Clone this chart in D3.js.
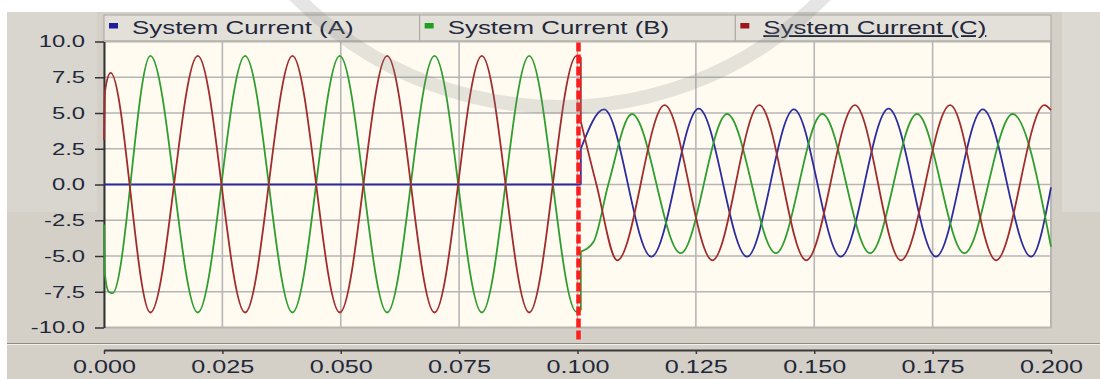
<!DOCTYPE html>
<html>
<head>
<meta charset="utf-8">
<script src="https://cdn.jsdelivr.net/npm/d3@7"></script>
<style>
  body { margin: 0; background: #fff; }
  svg { display: block; font-family: "Liberation Sans", Arial, sans-serif; }
</style>
</head>
<body>
<div id="chart"></div>
<script>
// tick values
const timeTicks = [0, 0.025, 0.05, 0.075, 0.1, 0.125, 0.15, 0.175, 0.2];
const currentTicks = [-10, -7.5, -5, -2.5, 0, 2.5, 5, 7.5, 10];
const seriesNames = ['System Current (A)', 'System Current (B)', 'System Current (C)'];
const faultTime = 0.1;

// waveform key points [time (s), current]
const preA = [[0, 0], [0.1007, 0]];
const postA = [[0.1007, 2.5], [0.1056, 5.25], [0.1156, -5.05], [0.1256, 5.3], [0.1358, -5.05],
  [0.1457, 5.25], [0.1556, -5.05], [0.1657, 5.3], [0.1757, -5.05], [0.1856, 5.25],
  [0.1958, -5.05], [0.2, -0.2]];

const preB = [[0, -2.8], [0.0002, -6.3], [0.001, -7.5], [0.0018, -7.6], [0.0098, 9.0],
  [0.0198, -8.95], [0.0298, 9.0], [0.0398, -8.95], [0.0498, 9.0], [0.0598, -8.95],
  [0.0698, 9.0], [0.0798, -8.95], [0.0898, 9.0], [0.0998, -8.9], [0.1007, -8.8]];
const postB = [[0.1007, -4.7], [0.1034, -4.0], [0.1065, 0], [0.1115, 4.93], [0.1218, -4.8],
  [0.1316, 4.93], [0.1419, -4.8], [0.1517, 4.93], [0.1618, -4.8], [0.1717, 4.93],
  [0.1817, -4.8], [0.1919, 4.93], [0.2, -4.35]];

const preC = [[0, 3.1], [0.0002, 6.5], [0.0014, 7.8], [0.0098, -8.95], [0.0198, 9.0],
  [0.0298, -8.95], [0.0398, 9.0], [0.0498, -8.95], [0.0598, 9.0], [0.0698, -8.95],
  [0.0798, 9.0], [0.0898, -8.95], [0.0998, 9.0], [0.1007, 8.9]];
const postC = [[0.1007, 4.4], [0.104, 0], [0.1084, -5.3], [0.1184, 5.55], [0.1285, -5.3],
  [0.1384, 5.55], [0.1483, -5.3], [0.1586, 5.55], [0.1683, -5.3], [0.1787, 5.55],
  [0.1884, -5.3], [0.1986, 5.55], [0.2, 5.2]];

const lineColors = ['#2c2ca0', '#2e9e2e', '#a02c2c'];
const keyColors = ['#1e1e9a', '#1f9f1f', '#9a1818'];

const width = 1100;
const height = 379;
const plot = { left: 104, right: 1051, top: 41.5, bottom: 327.5 };
const stretch = 1.4; // the screenshot text is wide

const svg = d3.select('#chart').append('svg')
  .attr('width', width)
  .attr('height', height);

const x = d3.scaleLinear().domain([0, 0.2]).range([plot.left, plot.right]);
const y = d3.scaleLinear().domain([-10, 10]).range([plot.bottom, plot.top]);

// window background
svg.append('rect').attr('width', width).attr('height', height).attr('fill', '#fff');
svg.append('rect').attr('x', 7).attr('y', 12).attr('width', width - 7).attr('height', height - 12)
  .attr('fill', '#d4d0c8');
svg.append('rect').attr('x', 7).attr('y', 12).attr('width', 90).attr('height', 200)
  .attr('fill', '#d9d6d0');
svg.append('rect').attr('x', 1062).attr('y', 12).attr('width', 38).attr('height', 200)
  .attr('fill', '#dcd9d3');

// legend cells
const band = d3.scaleBand().domain(seriesNames).range([plot.left, plot.right]);
const legend = svg.append('g');
const cell = legend.selectAll('g').data(seriesNames).enter().append('g')
  .attr('transform', d => 'translate(' + band(d) + ',15)');
cell.append('rect')
  .attr('width', band.bandwidth())
  .attr('height', 26)
  .attr('fill', '#e3e0da')
  .attr('stroke', '#a9a6a0')
  .attr('stroke-width', 1);
cell.append('rect')
  .attr('x', 5).attr('y', 8)
  .attr('width', 9).attr('height', 5.5)
  .attr('fill', (d, i) => keyColors[i]);
cell.append('text')
  .attr('transform', 'translate(28,18.5) scale(' + stretch + ',1)')
  .attr('font-size', 18.5)
  .attr('fill', '#22283a')
  .style('text-decoration', (d, i) => i === 2 ? 'underline' : 'none')
  .text(d => d);

// plot area
svg.append('rect')
  .attr('x', plot.left).attr('y', plot.top)
  .attr('width', plot.right - plot.left).attr('height', plot.bottom - plot.top)
  .attr('fill', '#fffbf1')
  .attr('stroke', '#b8b6b0')
  .attr('stroke-width', 2);

// grid
svg.append('g').selectAll('line').data(currentTicks.slice(1, -1)).enter().append('line')
  .attr('x1', plot.left).attr('x2', plot.right)
  .attr('y1', d => y(d)).attr('y2', d => y(d))
  .attr('stroke', '#b6b6b6').attr('stroke-width', 1.6);
svg.append('g').selectAll('line').data(timeTicks.slice(1, -1)).enter().append('line')
  .attr('y1', plot.top).attr('y2', plot.bottom)
  .attr('x1', d => x(d)).attr('x2', d => x(d))
  .attr('stroke', '#b6b6b6').attr('stroke-width', 1.6);

// y axis
const yAxis = svg.append('g')
  .attr('transform', 'translate(' + plot.left + ',0)')
  .call(d3.axisLeft(y).tickValues(currentTicks).tickSize(9).tickSizeOuter(0)
    .tickFormat(d => d.toFixed(1)));
yAxis.select('.domain').attr('stroke', '#333').attr('stroke-width', 2);
yAxis.selectAll('line').attr('stroke', '#333').attr('stroke-width', 1.5);
yAxis.selectAll('text')
  .attr('x', -19 / stretch)
  .attr('transform', 'scale(' + stretch + ',1)')
  .attr('font-size', 17)
  .attr('font-family', '"Liberation Sans", Arial, sans-serif')
  .attr('fill', '#22283a');

// x axis strip
svg.append('line').attr('x1', 7).attr('x2', width).attr('y1', 343.5).attr('y2', 343.5)
  .attr('stroke', '#8e8b85');
svg.append('line').attr('x1', 7).attr('x2', width).attr('y1', 344.5).attr('y2', 344.5)
  .attr('stroke', '#f2f0ec');
const xAxis = svg.append('g')
  .attr('transform', 'translate(0,350)')
  .call(d3.axisBottom(x).tickValues(timeTicks).tickSize(4).tickSizeOuter(0)
    .tickFormat(d3.format('.3f')));
xAxis.select('.domain').attr('stroke', '#3a3a3a').attr('stroke-width', 2);
xAxis.selectAll('line').attr('stroke', '#3a3a3a').attr('stroke-width', 1.5);
xAxis.selectAll('text')
  .attr('y', 10)
  .attr('transform', 'scale(' + stretch + ',1)')
  .attr('font-size', 18)
  .attr('font-family', '"Liberation Sans", Arial, sans-serif')
  .attr('fill', '#22283a');

// waveforms
const line = d3.line().x(d => x(d[0])).y(d => y(d[1])).curve(d3.curveMonotoneX);
const jump = d3.line().x(d => x(d[0])).y(d => y(d[1]));
const phases = [[preA, postA], [preB, postB], [preC, postC]];
const waves = svg.append('g').attr('fill', 'none').attr('stroke-width', 1.8);
phases.forEach(function (p, i) {
  const g = waves.append('g').attr('stroke', lineColors[i]);
  g.append('path').attr('d', line(p[0]));
  g.append('path').attr('d', jump([p[0][p[0].length - 1], p[1][0]]));
  g.append('path').attr('d', line(p[1]));
});

// fault instant marker
svg.append('line')
  .attr('x1', x(faultTime) + 1).attr('x2', x(faultTime) + 1)
  .attr('y1', plot.top + 1).attr('y2', 341)
  .attr('stroke', '#ff1c1c')
  .attr('stroke-width', 4.5)
  .attr('stroke-dasharray', '9,3');

// watermark ring
svg.append('path')
  .attr('transform', 'translate(560,-264)')
  .attr('d', d3.arc().innerRadius(364).outerRadius(378)
    .startAngle(Math.PI - 0.95).endAngle(Math.PI + 0.95)())
  .attr('fill', '#8a8a8a')
  .attr('opacity', 0.22);
</script>
</body>
</html>
